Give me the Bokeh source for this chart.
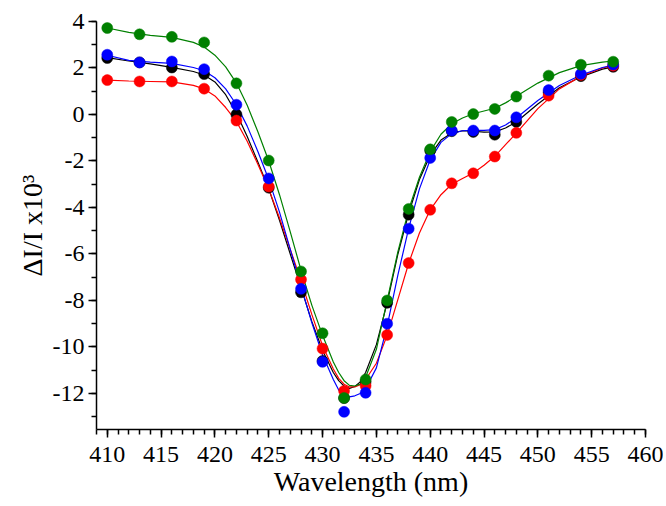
from bokeh.plotting import figure
from bokeh.models import SingleIntervalTicker, Range1d
from bokeh.embed import file_html
from bokeh.resources import INLINE

# measured points
wavelength = [410, 413, 416, 419, 422, 425, 428, 430, 432, 434, 436, 438, 440, 442, 444, 446, 448, 451, 454, 457]
black_pts = [2.43, 2.24, 2.02, 1.74, 0.0, -3.15, -7.65, -10.6, -12.2, -11.5, -8.1, -4.31, -1.55, -0.72, -0.75, -0.87, -0.32, 0.95, 1.65, 2.05]
red_pts = [1.48, 1.42, 1.42, 1.11, -0.26, -3.1, -7.1, -10.07, -11.89, -11.67, -9.48, -6.39, -4.10, -2.96, -2.53, -1.81, -0.79, 0.81, 1.7, 2.1]
blue_pts = [2.57, 2.24, 2.28, 1.95, 0.42, -2.75, -7.5, -10.64, -12.79, -11.97, -9.0, -4.91, -1.87, -0.69, -0.69, -0.69, -0.12, 1.05, 1.75, 2.15]
green_pts = [3.72, 3.45, 3.34, 3.10, 1.34, -1.98, -6.75, -9.41, -12.19, -11.40, -8.0, -4.06, -1.5, -0.32, 0.02, 0.24, 0.77, 1.67, 2.14, 2.27]

# fitted curves
fit_x = [410, 412, 414, 416, 418, 419, 420, 421, 422, 423, 424, 425, 426, 427, 428, 429, 430, 431, 431.5, 432,
         432.5, 433, 433.5, 434, 435, 436, 437, 438, 439, 440, 441, 442, 443, 444, 445, 446, 447, 448, 450, 452,
         454, 456, 457]
black_fit = [2.45, 2.3, 2.18, 2.03, 1.85, 1.7, 1.4, 0.85, 0.05, -0.95, -2.05, -3.2, -4.55, -6.0, -7.45, -8.9,
             -10.15, -11.1, -11.45, -11.68, -11.78, -11.7, -11.5, -11.1, -9.9, -8.1, -6.0, -4.25, -2.8, -1.75,
             -1.1, -0.8, -0.7, -0.72, -0.76, -0.75, -0.58, -0.32, 0.45, 1.15, 1.62, 1.95, 2.05]
red_fit = [1.48, 1.44, 1.42, 1.4, 1.25, 1.1, 0.8, 0.3, -0.3, -1.15, -2.15, -3.2, -4.45, -5.8, -7.15, -8.6,
           -9.95, -10.95, -11.35, -11.6, -11.72, -11.72, -11.62, -11.4, -10.7, -9.5, -7.95, -6.4, -5.1, -4.1,
           -3.45, -3.0, -2.75, -2.52, -2.18, -1.8, -1.3, -0.8, 0.25, 1.1, 1.65, 2.0, 2.1]
blue_fit = [2.55, 2.33, 2.25, 2.2, 2.02, 1.88, 1.58, 1.1, 0.42, -0.5, -1.6, -2.8, -4.2, -5.8, -7.4, -8.95,
            -10.35, -11.4, -11.85, -12.08, -12.15, -12.1, -12.0, -11.8, -10.9, -9.1, -6.9, -4.9, -3.2, -1.95,
            -1.2, -0.82, -0.7, -0.68, -0.68, -0.65, -0.45, -0.15, 0.6, 1.25, 1.7, 2.02, 2.12]
green_fit = [3.72, 3.53, 3.4, 3.32, 3.1, 2.9, 2.55, 2.05, 1.35, 0.4, -0.75, -2.0, -3.45, -5.05, -6.7, -8.2,
             -9.5, -10.65, -11.1, -11.45, -11.65, -11.68, -11.6, -11.3, -10.1, -8.0, -5.9, -4.1, -2.7, -1.6,
             -0.85, -0.4, -0.15, 0.03, 0.15, 0.27, 0.5, 0.78, 1.35, 1.8, 2.1, 2.25, 2.3]

y_ticks = [4, 2, 0, -2, -4, -6, -8, -10, -12]
y_tick_labels = ["4", "2", "0", "-2", "-4", "-6", "-8", "-10", "-12"]

series = [
    ("black", black_pts, black_fit),
    ("#ff0000", red_pts, red_fit),
    ("#0000ff", blue_pts, blue_fit),
    ("#008000", green_pts, green_fit),
]

FONT = "Liberation Serif"

p = figure(frame_width=549, frame_height=408, output_backend="svg", toolbar_location=None,
           x_range=Range1d(409.0, 460), y_range=Range1d(-13.55, 4),
           min_border_left=96, min_border_right=18, min_border_top=21, min_border_bottom=77)
p.title.visible = False
p.outline_line_color = None
p.grid.visible = False
p.background_fill_color = "white"
p.border_fill_color = "white"

for color, pts, fit in series:
    p.line(fit_x, fit, line_color=color, line_width=1.2)
for color, pts, fit in series:
    p.scatter(wavelength, pts, size=11, fill_color=color, line_color=color, line_width=0.5)

p.xaxis.ticker = SingleIntervalTicker(interval=5, num_minor_ticks=5)
p.yaxis.ticker = SingleIntervalTicker(interval=2, num_minor_ticks=2)
p.yaxis.major_label_overrides = dict(zip(y_ticks, y_tick_labels))

for ax in (p.xaxis[0], p.yaxis[0]):
    ax.axis_line_color = "black"
    ax.axis_line_width = 1.5
    ax.major_tick_line_color = "black"
    ax.minor_tick_line_color = "black"
    ax.major_tick_line_width = 1.5
    ax.minor_tick_line_width = 1.5
    ax.major_tick_out = 8
    ax.major_tick_in = 0
    ax.minor_tick_out = 5
    ax.minor_tick_in = 0
    ax.major_label_text_font = FONT
    ax.major_label_text_font_size = "24px"
    ax.major_label_text_color = "black"
    ax.axis_label_text_font = FONT
    ax.axis_label_text_font_size = "28px"
    ax.axis_label_text_font_style = "normal"
    ax.axis_label_text_color = "black"

p.xaxis.axis_label = "Wavelength (nm)"
p.xaxis.major_label_standoff = 9
p.xaxis.axis_label_standoff = 1
p.yaxis.axis_label = "\u0394I/I x10\u00b3"
p.yaxis.major_label_standoff = 4
p.yaxis.axis_label_standoff = 2

open("out.html", "w").write(file_html(p, INLINE))
